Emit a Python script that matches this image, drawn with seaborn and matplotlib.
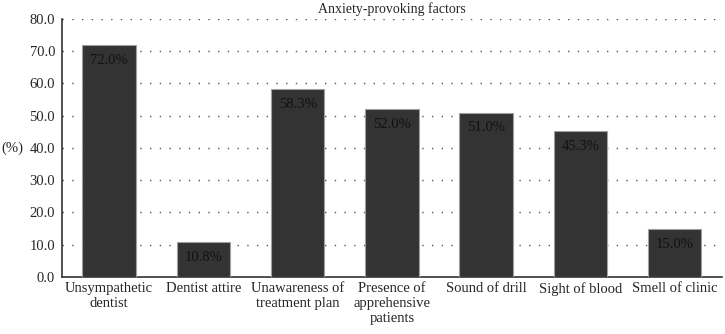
import pandas as pd
import seaborn as sns
import matplotlib.pyplot as plt

factors = ["Unsympathetic\ndentist", "Dentist attire", "Unawareness of\ntreatment plan",
           "Presence of\napprehensive\npatients", "Sound of drill", "Sight of blood",
           "Smell of clinic"]
percent = [72.0, 10.8, 58.3, 52.0, 51.0, 45.3, 15.0]
yticks = [0, 10, 20, 30, 40, 50, 60, 70, 80]


def main():
    df = pd.DataFrame({"factor": factors, "pct": percent})

    sns.set_style("white")
    plt.rcParams["font.family"] = ["Liberation Serif", "DejaVu Serif"]

    fig = plt.figure(figsize=(7.25, 3.34), dpi=100)
    ax = fig.add_axes([0.0855, 0.171, 0.91, 0.772])

    sns.barplot(x="factor", y="pct", data=df, color="#333333", width=0.57,
                edgecolor="#a0a0a0", linewidth=0.8, saturation=1, ax=ax, zorder=3)

    ax.set_ylim(0, 80)
    ax.set_yticks(yticks)
    ax.set_yticklabels([f"{v:.1f}" for v in yticks], fontsize=10.5)
    ax.yaxis.grid(True, linestyle=(0, (1, 6)), color="#555555", linewidth=1.0, zorder=0)
    ax.set_axisbelow(True)
    ax.tick_params(axis="y", length=4, width=0.8, color="#333333", pad=1)
    ax.tick_params(axis="x", length=0, labelsize=10.5, pad=4)
    ax.set_xlim(-0.5, len(factors) - 0.5)

    for s in ["top", "right"]:
        ax.spines[s].set_visible(False)
    for s in ["left", "bottom"]:
        ax.spines[s].set_color("#333333")
        ax.spines[s].set_linewidth(1.2)

    ax.set_xlabel("")
    ax.set_ylabel("")
    fig.text(0.0165, 0.557, "(%)", ha="center", va="center", fontsize=10.5)
    ax.set_title("Anxiety-provoking factors", fontsize=10, pad=4)

    for i, v in enumerate(percent):
        ax.text(i, v - 4.8, f"{v:.1f}%", ha="center", va="center", fontsize=10.5,
                color="#111111", zorder=4)

    fig.savefig("out.png", dpi=100)


if __name__ == "__main__":
    main()
